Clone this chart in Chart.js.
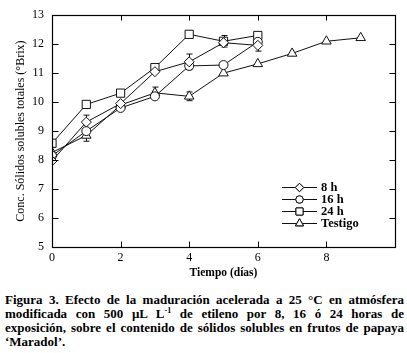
<!DOCTYPE html>
<html>
<head>
<meta charset="utf-8">
<script src="https://cdn.jsdelivr.net/npm/chart.js@4.4.0/dist/chart.umd.min.js"></script>
<style>
  html, body { margin: 0; padding: 0; background: #fff; }
  #wrap { position: relative; width: 407px; height: 282px; }
  #caption {
    position: absolute; left: 5px; top: 293px; width: 399px;
    font-family: 'Liberation Serif', 'Times New Roman', serif;
    font-weight: bold; font-size: 13px; line-height: 14px; color: #000;
  }
  #caption div { text-align: justify; text-align-last: justify; white-space: nowrap; }
  #caption div.last { text-align-last: left; }
  sup { font-size: 8px; line-height: 0; }
</style>
</head>
<body>
<div id="wrap"><canvas id="brixChart" width="407" height="282"></canvas></div>
<div id="caption">
  <div>Figura 3. Efecto de la maduración acelerada a 25 °C en atmósfera</div>
  <div>modificada con 500 μL L<sup>-1</sup> de etileno por 8, 16 ó 24 horas de</div>
  <div>exposición, sobre el contenido de sólidos solubles en frutos de papaya</div>
  <div class="last">‘Maradol’.</div>
</div>
<script>
// datos
const dias = [0, 1, 2, 3, 4, 5, 6];
const diasTestigo = [0, 1, 2, 3, 4, 5, 6, 7, 8, 9];
const brix8h = [7.97, 9.31, 9.95, 11.05, 11.39, 12.05, 11.96];
const brix16h = [8.15, 9.0, 9.8, 10.2, 11.25, 11.28, 12.08];
const brix24h = [8.58, 9.92, 10.31, 11.19, 12.34, 12.1, 12.3];
const brixTestigo = [8.26, 8.85, 9.9, 10.32, 10.2, 11.0, 11.32, 11.68, 12.1, 12.22];
const err8h = [0, 0.24, 0, 0, 0.27, 0, 0.2];
const err16h = [0, 0, 0, 0, 0, 0, 0];
const err24h = [0, 0, 0.1, 0, 0, 0.2, 0];
const errTestigo = [0, 0.2, 0, 0.2, 0.15, 0, 0, 0, 0, 0];
const xTicks = [0, 2, 4, 6, 8];
const yTicks = [5, 6, 7, 8, 9, 10, 11, 12, 13];
const seriesNames = ['8 h', '16 h', '24 h', 'Testigo'];

const serif = "'Liberation Serif', 'Times New Roman', serif";

function toXY(xs, ys) {
  return xs.map((x, i) => ({ x: x, y: ys[i] }));
}

function serie(label, xs, ys, errs, style, radius) {
  return {
    label: label,
    data: toXY(xs, ys),
    errors: errs,
    borderColor: '#111',
    borderWidth: 1,
    backgroundColor: '#fff',
    pointBackgroundColor: '#fff',
    pointBorderColor: '#111',
    pointBorderWidth: 1,
    pointStyle: style,
    pointRadius: radius,
    tension: 0,
    fill: false
  };
}

// barras de error, marco con marcas hacia dentro y leyenda
const marco = {
  id: 'marco',
  beforeDatasetsDraw(chart) {
    const ctx = chart.ctx;
    const xs = chart.scales.x, ys = chart.scales.y;
    ctx.save();
    ctx.strokeStyle = '#111';
    ctx.lineWidth = 1;
    chart.data.datasets.forEach(ds => {
      ds.data.forEach((p, i) => {
        const e = ds.errors[i];
        if (!e) return;
        const px = Math.round(xs.getPixelForValue(p.x)) + 0.5;
        const top = ys.getPixelForValue(p.y + e);
        const bot = ys.getPixelForValue(p.y - e);
        ctx.beginPath();
        ctx.moveTo(px, top); ctx.lineTo(px, bot);
        ctx.moveTo(px - 3, top); ctx.lineTo(px + 3, top);
        ctx.moveTo(px - 3, bot); ctx.lineTo(px + 3, bot);
        ctx.stroke();
      });
    });
    ctx.restore();
  },
  afterDraw(chart) {
    const ctx = chart.ctx;
    const a = chart.chartArea;
    const xs = chart.scales.x, ys = chart.scales.y;
    const L = Math.round(a.left) + 0.5, R = Math.round(a.right) + 0.5;
    const T = Math.round(a.top) + 0.5, B = Math.round(a.bottom) + 0.5;
    ctx.save();
    ctx.strokeStyle = '#000';
    ctx.lineWidth = 1.2;
    ctx.strokeRect(L, T, R - L, B - T);
    ctx.lineWidth = 1;
    ctx.beginPath();
    xTicks.forEach(v => {
      const px = Math.round(xs.getPixelForValue(v)) + 0.5;
      ctx.moveTo(px, B); ctx.lineTo(px, B - 6);
      ctx.moveTo(px, T); ctx.lineTo(px, T + 5);
    });
    yTicks.forEach(v => {
      const py = Math.round(ys.getPixelForValue(v)) + 0.5;
      ctx.moveTo(L, py); ctx.lineTo(L + 6, py);
      ctx.moveTo(R, py); ctx.lineTo(R - 6, py);
    });
    ctx.stroke();

    // leyenda
    const lx = 282, lw = 35, ly0 = 187, dy = 12;
    ctx.font = 'bold 12.5px ' + serif;
    ctx.textBaseline = 'middle';
    ctx.fillStyle = '#000';
    chart.data.datasets.forEach((ds, i) => {
      const y = ly0 + i * dy;
      ctx.strokeStyle = '#111';
      ctx.beginPath();
      ctx.moveTo(lx, y + 0.5); ctx.lineTo(lx + lw, y + 0.5);
      ctx.stroke();
      Chart.helpers.drawPoint(ctx, {
        pointStyle: ds.pointStyle, radius: ds.pointRadius - 0.8, borderWidth: 1
      }, lx + lw / 2, y + 0.5);
      ctx.fillStyle = '#fff';
      ctx.fill();
      ctx.stroke();
      ctx.fillStyle = '#000';
      ctx.fillText(ds.label, lx + lw + 4, y + 1);
    });
    ctx.restore();
  }
};

const ctx = document.getElementById('brixChart').getContext('2d');
new Chart(ctx, {
  type: 'line',
  data: {
    datasets: [
      serie(seriesNames[0], dias, brix8h, err8h, 'rectRot', 5),
      serie(seriesNames[1], dias, brix16h, err16h, 'circle', 4.5),
      serie(seriesNames[2], dias, brix24h, err24h, 'rect', 5.8),
      serie(seriesNames[3], diasTestigo, brixTestigo, errTestigo, 'triangle', 5.5)
    ]
  },
  options: {
    responsive: false,
    devicePixelRatio: 1,
    animation: false,
    layout: { padding: { top: 13, right: 12, left: 0, bottom: 0 } },
    plugins: {
      legend: { display: false },
      tooltip: { enabled: false }
    },
    scales: {
      x: {
        type: 'linear',
        min: 0,
        max: 10,
        afterFit: s => { s.height = 35; },
        afterBuildTicks: s => { s.ticks = xTicks.map(v => ({ value: v })); },
        ticks: {
          color: '#000',
          padding: 4,
          maxRotation: 0,
          font: { family: serif, size: 12 }
        },
        grid: { display: false, drawTicks: false },
        border: { display: false },
        title: {
          display: true,
          text: 'Tiempo (días)',
          color: '#000',
          font: { family: serif, size: 11.5, weight: 'bold' },
          padding: { top: 0, bottom: 2 }
        }
      },
      y: {
        type: 'linear',
        min: 5,
        max: 13,
        afterFit: s => { s.width = 52; },
        afterBuildTicks: s => { s.ticks = yTicks.map(v => ({ value: v })); },
        ticks: {
          color: '#000',
          padding: 8,
          font: { family: serif, size: 12 }
        },
        grid: { display: false, drawTicks: false },
        border: { display: false },
        title: {
          display: true,
          text: 'Conc. Sólidos solubles totales (°Brix)',
          color: '#000',
          font: { family: serif, size: 12 },
          padding: { top: 14, bottom: 0 }
        }
      }
    }
  },
  plugins: [marco]
});
</script>
</body>
</html>
